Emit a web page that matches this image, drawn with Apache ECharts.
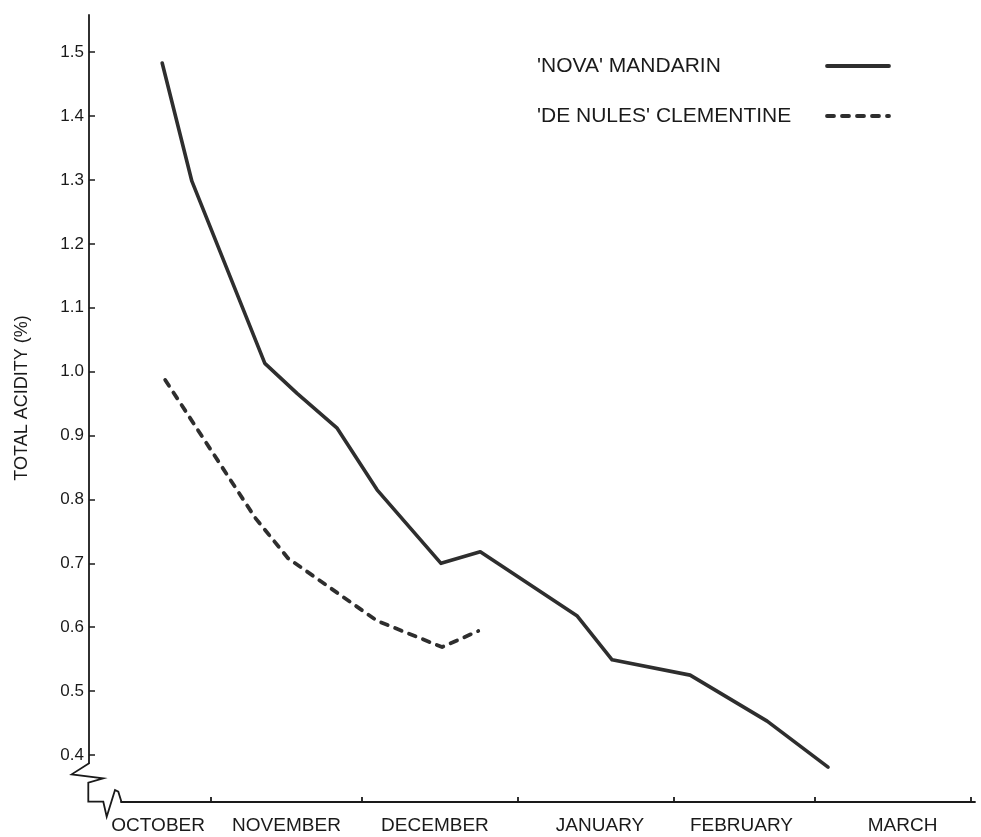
<!DOCTYPE html>
<html>
<head>
<meta charset="utf-8">
<script src="https://cdn.jsdelivr.net/npm/echarts@6/dist/echarts.min.js"></script>
<style>
html,body{margin:0;padding:0;background:#fff;}
#chart{width:981px;height:837px;}
</style>
</head>
<body>
<div id="chart"></div>
<script>
// Days counted from 1 October
const months = ['OCTOBER', 'NOVEMBER', 'DECEMBER', 'JANUARY', 'FEBRUARY', 'MARCH'];
const monthLabelDays = [20.5, 46, 75.5, 108.3, 136.4, 168.4];
const monthBoundaryDays = [31, 61, 92, 123, 151, 182];
const yTickValues = [0.4, 0.5, 0.6, 0.7, 0.8, 0.9, 1.0, 1.1, 1.2, 1.3, 1.4, 1.5];

const novaName = "'NOVA' MANDARIN";
const novaDays = [21.3, 27.2, 41.7, 48.1, 56.0, 64.0, 76.7, 84.5, 103.7, 110.7, 126.2, 141.5, 153.6];
const novaAcidity = [1.483, 1.298, 1.013, 0.966, 0.912, 0.815, 0.700, 0.718, 0.618, 0.549, 0.525, 0.453, 0.381];

const clemName = "'DE NULES' CLEMENTINE";
const clemDays = [21.9, 39.8, 46.3, 64.0, 76.9, 84.1];
const clemAcidity = [0.987, 0.771, 0.708, 0.610, 0.569, 0.594];

const FONT = 'Liberation Sans';
const INK = '#1a1a1a';
const LINE = '#2e2e2e';

const chart = echarts.init(document.getElementById('chart'), null, {renderer: 'canvas'});

const option = {
  backgroundColor: '#ffffff',
  animation: false,
  textStyle: {fontFamily: FONT, color: INK},
  grid: [
    {left: 89, right: 6, top: 15, bottom: 74, outerBoundsMode: 'none', containLabel: false},
    {left: 121, right: 6, top: 15, bottom: 35, outerBoundsMode: 'none', containLabel: false}
  ],
  xAxis: [
    {type: 'value', gridIndex: 0, min: 6.761, max: 182.8, show: false},
    {
      type: 'value', gridIndex: 1, min: 13.12, max: 182.8,
      axisLine: {show: true, lineStyle: {color: INK, width: 1.8}},
      axisTick: {show: true, inside: true, length: 5, customValues: monthBoundaryDays, lineStyle: {color: INK, width: 1.8}},
      axisLabel: {
        show: true, customValues: monthLabelDays, margin: 14,
        fontSize: 19, fontFamily: FONT, color: INK,
        formatter: function (v) {
          let best = 0;
          for (let i = 0; i < monthLabelDays.length; i++) {
            if (Math.abs(monthLabelDays[i] - v) < Math.abs(monthLabelDays[best] - v)) best = i;
          }
          return months[best];
        }
      },
      splitLine: {show: false}
    }
  ],
  yAxis: [
    {
      type: 'value', gridIndex: 0, min: 0.3875, max: 1.5581,
      axisLine: {show: true, lineStyle: {color: INK, width: 1.8}},
      axisTick: {show: true, inside: true, length: 6, customValues: yTickValues, lineStyle: {color: INK, width: 1.5}},
      axisLabel: {
        show: true, customValues: yTickValues, margin: 5,
        fontSize: 17, fontFamily: FONT, color: INK,
        formatter: function (v) { return v.toFixed(1); }
      },
      splitLine: {show: false}
    },
    {type: 'value', gridIndex: 1, show: false, min: 0, max: 1}
  ],
  legend: {
    orient: 'vertical',
    left: 532, top: 49,
    align: 'right',
    itemWidth: 62, itemHeight: 14,
    itemGap: 26,
    itemStyle: {opacity: 0},
    lineStyle: {width: 3.8},
    formatter: function (name) { return '{t|' + name + '}'; },
    textStyle: {
      fontSize: 21, fontFamily: FONT, color: INK, lineHeight: 24,
      rich: {t: {width: 285, align: 'left', fontSize: 21, fontFamily: FONT, color: INK, lineHeight: 24}}
    },
    data: [novaName, clemName]
  },
  series: [
    {
      name: novaName, type: 'line', xAxisIndex: 0, yAxisIndex: 0,
      data: novaDays.map((d, i) => [d, novaAcidity[i]]),
      symbol: 'none', smooth: false, clip: false,
      lineStyle: {color: LINE, width: 3.6, cap: 'round', join: 'round'},
      itemStyle: {color: LINE}
    },
    {
      name: clemName, type: 'line', xAxisIndex: 0, yAxisIndex: 0,
      data: clemDays.map((d, i) => [d, clemAcidity[i]]),
      symbol: 'none', smooth: false, clip: false,
      lineStyle: {color: LINE, width: 3.8, type: [7, 8], cap: 'round', join: 'round'},
      itemStyle: {color: LINE}
    }
  ],
  graphic: [
    {
      type: 'polyline',
      shape: {points: [[89.5, 763], [71.7, 774.3], [103.3, 778.3], [88.3, 782.7], [88.3, 801.7], [103.3, 801.7], [106.7, 816.7], [115, 790], [118.3, 791.7], [121.5, 802]]},
      style: {stroke: INK, lineWidth: 1.8, fill: null}
    },
    {
      type: 'text',
      x: 22, y: 398,
      rotation: Math.PI / 2,
      style: {text: 'TOTAL ACIDITY (%)', fontSize: 18, fontFamily: FONT, fill: INK, align: 'center', verticalAlign: 'middle'}
    }
  ]
};

chart.setOption(option);
</script>
</body>
</html>
